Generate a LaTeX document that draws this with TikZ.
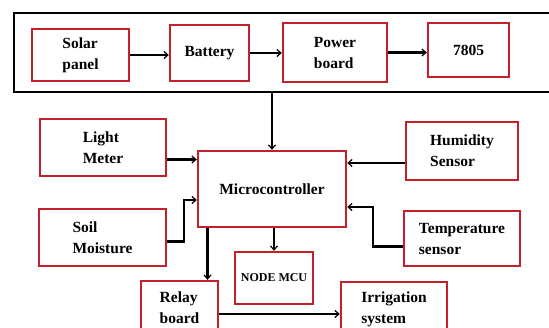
\documentclass[tikz,border=0pt]{standalone}
\usepackage{fontspec}
\setmainfont{Liberation Serif}
\usetikzlibrary{arrows.meta}
\definecolor{boxred}{RGB}{196,32,42}

\begin{document}
\begin{tikzpicture}[
        x=1pt, y=-1pt,
        font=\fontsize{15.5}{21}\selectfont\bfseries,
        blk/.style={rectangle, draw=boxred, line width=2.4pt, fill=white,
                    inner sep=0pt, align=left},
        arr/.style={draw=black, line width=2.3pt,
                    -{Straight Barb[length=4pt,width=7pt,line width=1.2pt]}},
      ]
        \useasboundingbox (0,0) rectangle (549,327);
        \clip (0,0) rectangle (549,327);

        % power supply chain
        \node[rectangle, draw=black, line width=2.8pt,
              minimum width=542pt, minimum height=79pt] (supply) at (285,52.5) {};
        \node[blk, minimum width=97pt, minimum height=52pt] (solar) at (80.5,55) {Solar\\panel};
        \node[blk, minimum width=79pt, minimum height=56pt] (battery) at (209.5,53) {Battery};
        \node[blk, minimum width=104pt, minimum height=59pt] (power) at (335,52.5) {Power\\board};
        \node[blk, minimum width=81pt, minimum height=54pt] (reg) at (468.5,50) {7805};

        % controller and sensors
        \node[blk, minimum width=148pt, minimum height=76pt] (mcu) at (272,189) {Microcontroller};
        \node[blk, minimum width=126pt, minimum height=57pt] (light) at (103,147.5) {Light\\Meter};
        \node[blk, minimum width=112pt, minimum height=58pt] (humid) at (462,151) {Humidity\\Sensor};
        \node[blk, minimum width=127pt, minimum height=57pt] (soil) at (102.5,237.5) {Soil\\Moisture};
        \node[blk, minimum width=116pt, minimum height=55pt] (temp) at (462,238.5) {Temperature\\sensor};

        % outputs
        \node[blk, minimum width=78pt, minimum height=52pt,
              font=\fontsize{12}{14}\selectfont\bfseries] (nodemcu) at (274,278) {NODE MCU};
        \node[blk, minimum width=77pt, minimum height=54pt] (relay) at (179.5,308) {Relay\\board};
        \node[blk, minimum width=106pt, minimum height=54pt] (irrig) at (394,309) {Irrigation\\system};

        \draw[arr] (solar.east) -- (solar.east -| battery.west);
        \draw[arr] (battery.east) -- (battery.east -| power.west);
        \draw[arr] (power.east) -- (power.east -| reg.west);
        \draw[arr] (mcu.north |- supply.south) -- (mcu.north);

        \draw[arr] ([yshift=-12pt]light.east) -- ([yshift=-12pt]light.east -| mcu.west);
        \draw[arr] ([yshift=-12pt]humid.west) -- ([yshift=-12pt]humid.west -| mcu.east);
        \draw[arr] ([yshift=-4pt]soil.east) -- ++(17,0) |- ([yshift=-11pt]mcu.west);
        \draw[arr] ([yshift=-8pt]temp.west) -- ++(-30,0) |- ([yshift=-18pt]mcu.east);

        \coordinate (relayin) at ([xshift=28pt]relay.north);
        \draw[arr] (nodemcu.north |- mcu.south) -- (nodemcu.north);
        \draw[arr] (relayin |- mcu.south) -- (relayin);
        \draw[arr] ([yshift=-6pt]relay.east) -- ([yshift=-6pt]relay.east -| irrig.west);
      \end{tikzpicture}
\end{document}
